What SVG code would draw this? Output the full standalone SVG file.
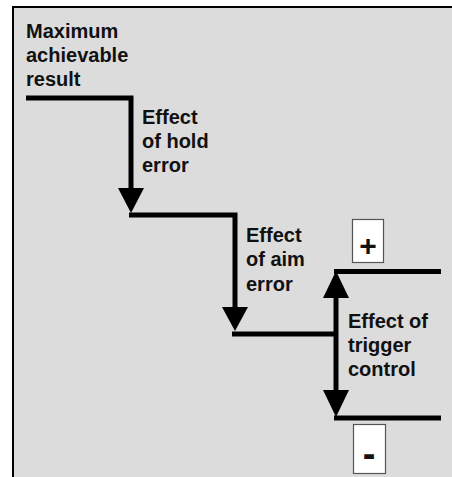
<svg xmlns="http://www.w3.org/2000/svg" width="452" height="477" viewBox="0 0 452 477">
<style>
.t{font-family:"Liberation Sans",Arial,sans-serif;font-weight:bold;font-size:20px;fill:#111}
.ln{stroke:#000;stroke-width:5;fill:none;stroke-linecap:butt}
.box{fill:#fff;stroke:#555;stroke-width:1.2}
.ah{fill:#000}
</style>
<rect x="0" y="0" width="452" height="477" fill="#fff"/>
<rect x="14" y="8" width="438" height="469" fill="#dcdcdc"/>
<path d="M13,477 V7 H452" stroke="#000" stroke-width="2" fill="none"/>
<g id="connectors">
<path class="ln" d="M26,98 H131 V190"/>
<polygon class="ah" points="118,188 144,188 131,213"/>
<path class="ln" d="M129,215 H235 V309"/>
<polygon class="ah" points="222,307 248,307 235,331"/>
<path class="ln" d="M232,334 H336"/>
<path class="ln" d="M336,296 V392"/>
<polygon class="ah" points="323,298 349,298 336,271"/>
<polygon class="ah" points="323,390 349,390 336,417"/>
<path class="ln" d="M334,271.5 H441"/>
<path class="ln" d="M334,418 H441"/>
</g>
<g id="max">
<text class="t" x="26" y="38">Maximum</text>
<text class="t" x="26" y="62">achievable</text>
<text class="t" x="26" y="86">result</text>
</g>
<g id="hold">
<text class="t" x="142" y="124">Effect</text>
<text class="t" x="142" y="148">of hold</text>
<text class="t" x="142" y="172">error</text>
</g>
<g id="aim">
<text class="t" x="246" y="242">Effect</text>
<text class="t" x="246" y="266">of aim</text>
<text class="t" x="246" y="291">error</text>
</g>
<g id="trigger">
<text class="t" x="348" y="328">Effect of</text>
<text class="t" x="348" y="352">trigger</text>
<text class="t" x="348" y="376">control</text>
</g>
<g id="plus">
<rect class="box" x="352.5" y="219.5" width="31" height="43"/>
<text class="t" x="368" y="256" text-anchor="middle" style="font-size:30px">+</text>
</g>
<g id="minus">
<rect class="box" x="353.5" y="424.5" width="32" height="49"/>
<text class="t" x="369" y="467" text-anchor="middle" style="font-size:38px">-</text>
</g>
</svg>
